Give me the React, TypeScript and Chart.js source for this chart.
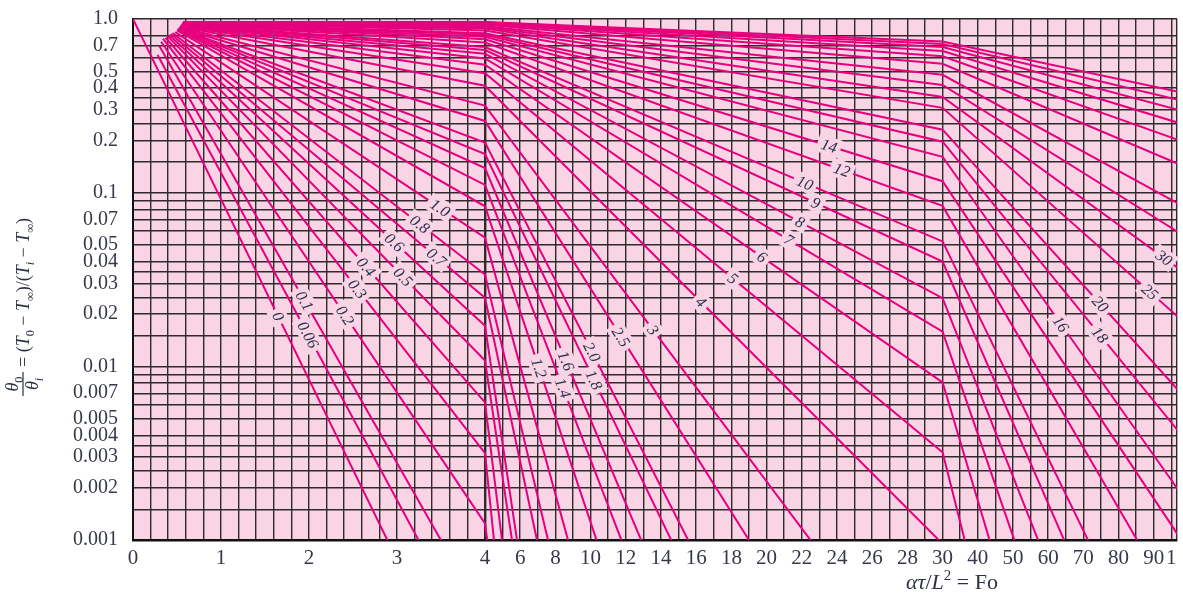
import React, { useEffect, useRef } from 'react';
import { Chart, registerables } from 'chart.js';

Chart.register(...registerables);

// k/hL curve labels
const curveLabels = ['0', '0.06', '0.1', '0.2', '0.3', '0.4', '0.5', '0.6', '0.7', '0.8', '1.0', '1.2', '1.4', '1.6', '1.8', '2.0', '2.5', '3', '4', '5', '6', '7', '8', '9', '10', '12', '14', '16', '18', '20', '25', '30', '35', '40', '50', '60', '70', '80', '90', '100'];
// first point of each curve (Fo, theta)
const startFo = [0, 0.28, 0.3, 0.32, 0.34, 0.37, 0.39, 0.41, 0.43, 0.45, 0.48, 0.5, 0.505, 0.51, 0.515, 0.52, 0.525, 0.53, 0.535, 0.54, 0.545, 0.55, 0.55, 0.555, 0.555, 0.56, 0.56, 0.56, 0.565, 0.565, 0.565, 0.57, 0.57, 0.57, 0.57, 0.57, 0.57, 0.57, 0.57, 0.57];
const startTheta = [1.0, 0.62, 0.7, 0.74, 0.77, 0.78, 0.8, 0.81, 0.82, 0.83, 0.84, 0.86, 0.87, 0.875, 0.88, 0.885, 0.89, 0.9, 0.905, 0.91, 0.915, 0.92, 0.925, 0.93, 0.93, 0.935, 0.94, 0.94, 0.945, 0.945, 0.95, 0.95, 0.952, 0.954, 0.955, 0.956, 0.957, 0.958, 0.959, 0.96];
// theta at Fo = 4, 30, 100 (null: curve already left the chart)
const thetaAtFo4 = [7.05e-5, 1.94e-4, 3.58e-4, 1.245e-3, 3.16e-3, 6.2e-3, 0.0108, 0.0171, 0.0248, 0.0338, 0.0551, 0.08347, 0.1108, 0.1387, 0.1667, 0.1941, 0.2589, 0.317, 0.4129, 0.4875, 0.5459, 0.5927, 0.6311, 0.663, 0.69, 0.7328, 0.7653, 0.7908, 0.8113, 0.8281, 0.8596, 0.8813, 0.8972, 0.9093, 0.9266, 0.9384, 0.947, 0.9534, 0.9584, 0.9625];
const thetaAtFo30 = [null, null, null, 3e-23, 1.2e-28, 2.9e-24, 3.3e-20, 4e-20, 1.33e-14, 2.65e-13, 1.39e-11, 1.09e-9, 1.53e-8, 7.29e-8, 5.76e-7, 1.363e-6, 1.695e-5, 9.65e-5, 9.5e-4, 3.2e-3, 8.09e-3, 0.01583, 0.0247, 0.0401, 0.0524, 0.0839, 0.1164, 0.1609, 0.1965, 0.2306, 0.308, 0.3556, 0.417, 0.4773, 0.5528, 0.6098, 0.6544, 0.6898, 0.7187, 0.7429];
const thetaAtFo100 = [null, null, null, null, null, null, null, null, null, null, null, null, null, null, null, null, null, null, 1e-10, 7.4e-9, 1.4e-7, 1.2e-6, 6.3e-6, 2.25e-5, 6.4e-5, 3.07e-4, 8.6e-4, 1.59e-3, 3.56e-3, 6.23e-3, 0.01693, 0.0331, 0.0542, 0.08, 0.1377, 0.1913, 0.242, 0.2887, 0.3313, 0.3697];
// Fo at which each curve label sits (null: unlabeled)
const labelFo = [1.65, 1.99, 1.95, 2.41, 2.55, 2.65, 3.07, 2.97, 3.45, 3.26, 3.49, 7.07, 8.43, 8.6, 10.19, 10.08, 11.73, 13.55, 16.27, 18.09, 19.74, 21.27, 21.9, 22.8, 22.18, 24.28, 23.55, 63.6, 74.7, 74.8, 88.9, 92.9, null, null, null, null, null, null, null, null];

// axis ticks (the last label is the clipped "100")
const foTickValues = [0, 1, 2, 3, 4, 6, 8, 10, 12, 14, 16, 18, 20, 22, 24, 26, 28, 30, 40, 50, 60, 70, 80, 90, 95];
const foTickLabels = ['0', '1', '2', '3', '4', '6', '8', '10', '12', '14', '16', '18', '20', '22', '24', '26', '28', '30', '40', '50', '60', '70', '80', '90', '1'];
const thetaGridValues = [1.0, 0.8, 0.7, 0.6, 0.5, 0.4, 0.35, 0.3, 0.25, 0.2, 0.15, 0.1, 0.09, 0.08, 0.07, 0.06, 0.05, 0.04, 0.035, 0.03, 0.025, 0.02, 0.015, 0.01, 0.009, 0.008, 0.007, 0.006, 0.005, 0.004, 0.0035, 0.003, 0.0025, 0.002, 0.0015, 0.001];
const thetaTickValues = [1.0, 0.7, 0.5, 0.4, 0.3, 0.2, 0.1, 0.07, 0.05, 0.04, 0.03, 0.02, 0.01, 0.007, 0.005, 0.004, 0.003, 0.002, 0.001];
const thetaTickLabels = ['1.0', '0.7', '0.5', '0.4', '0.3', '0.2', '0.1', '0.07', '0.05', '0.04', '0.03', '0.02', '0.01', '0.007', '0.005', '0.004', '0.003', '0.002', '0.001'];

const BG = '#f9d4e4';
const LINE = '#e6007e';
const GRID = '#2f2a2c';
const TEXT = '#353a46';
const SERIF = '"Liberation Serif", "Times New Roman", serif';
const X_MAX = 11.864;

function foToU(fo: number): number {
  if (fo <= 4) return fo;
  if (fo <= 30) return 4 + (fo - 4) / 5;
  return 9.2 + (fo - 30) / 25;
}

function curvePoints(i: number) {
  const raw: [number, number | null][] = [
    [startFo[i], startTheta[i]],
    [4, thetaAtFo4[i]],
    [30, thetaAtFo30[i]],
    [100, thetaAtFo100[i]],
  ];
  return raw.filter((p) => p[1] != null).map((p) => ({ x: foToU(p[0]), y: p[1] as number }));
}

type Run = { t: string; italic?: boolean; sub?: boolean; sup?: boolean };

function measureRuns(ctx: CanvasRenderingContext2D, runs: Run[], size: number) {
  let w = 0;
  for (const r of runs) {
    const s = r.sub || r.sup ? size * 0.68 : size;
    ctx.font = `${r.italic ? 'italic ' : ''}${s}px ${SERIF}`;
    w += ctx.measureText(r.t).width;
  }
  return w;
}

function drawRuns(ctx: CanvasRenderingContext2D, runs: Run[], x: number, y: number, size: number) {
  let cx = x;
  for (const r of runs) {
    const s = r.sub || r.sup ? size * 0.68 : size;
    ctx.font = `${r.italic ? 'italic ' : ''}${s}px ${SERIF}`;
    const dy = r.sub ? size * 0.25 : r.sup ? -size * 0.4 : 0;
    ctx.fillText(r.t, cx, y + dy);
    cx += ctx.measureText(r.t).width;
  }
}

const gridU: number[] = [];
for (let i = 0; i < 60; i++) gridU.push(+(i * 0.2).toFixed(2));
gridU.push(X_MAX);

function xLabelFor(u: number): string {
  for (let k = 0; k < foTickValues.length; k++) {
    if (Math.abs(foToU(foTickValues[k]) - u) < 0.01) return foTickLabels[k];
  }
  return '';
}
function yLabelFor(v: number): string {
  for (let k = 0; k < thetaTickValues.length; k++) {
    if (Math.abs(thetaTickValues[k] - v) / thetaTickValues[k] < 0.001) return thetaTickLabels[k];
  }
  return '';
}

const bgPlugin = {
  id: 'plotBg',
  beforeDraw(chart: any) {
    const { ctx, chartArea: a } = chart;
    ctx.save();
    ctx.fillStyle = BG;
    ctx.fillRect(a.left, a.top, a.right - a.left, a.bottom - a.top);
    ctx.restore();
  },
};

const curveLabelPlugin = {
  id: 'curveLabels',
  afterDatasetsDraw(chart: any) {
    const { ctx } = chart;
    const xs = chart.scales.x;
    const ys = chart.scales.y;
    curveLabels.forEach((lab, i) => {
      const f = labelFo[i];
      if (f == null) return;
      const pts = curvePoints(i);
      const u = foToU(f);
      for (let j = 0; j < pts.length - 1; j++) {
        if (u >= pts[j].x && u <= pts[j + 1].x) {
          const x1 = xs.getPixelForValue(pts[j].x);
          const y1 = ys.getPixelForValue(pts[j].y);
          const x2 = xs.getPixelForValue(pts[j + 1].x);
          const y2 = ys.getPixelForValue(pts[j + 1].y);
          const t = (u - pts[j].x) / (pts[j + 1].x - pts[j].x);
          const px = x1 + t * (x2 - x1);
          const py = y1 + t * (y2 - y1);
          const ang = Math.atan2(y2 - y1, x2 - x1);
          ctx.save();
          ctx.translate(px, py);
          ctx.rotate(ang);
          ctx.font = `italic 16px ${SERIF}`;
          const w = ctx.measureText(lab).width + 8;
          ctx.fillStyle = BG;
          ctx.fillRect(-w / 2, -9, w, 18);
          ctx.fillStyle = '#24304a';
          ctx.textAlign = 'center';
          ctx.textBaseline = 'middle';
          ctx.fillText(lab, 0, 1);
          ctx.restore();
          break;
        }
      }
    });
  },
};

const titlePlugin = {
  id: 'axisTitles',
  afterDraw(chart: any) {
    const { ctx } = chart;
    ctx.save();
    ctx.fillStyle = '#2b3140';
    ctx.strokeStyle = '#2b3140';
    ctx.textBaseline = 'alphabetic';
    ctx.textAlign = 'left';
    const xRuns: Run[] = [
      { t: 'ατ', italic: true },
      { t: '/' },
      { t: 'L', italic: true },
      { t: '2', sup: true },
      { t: ' = Fo' },
    ];
    const xs = 22;
    const xw = measureRuns(ctx, xRuns, xs);
    drawRuns(ctx, xRuns, 952 - xw / 2, 589, xs);

    ctx.translate(24, 312);
    ctx.rotate(-Math.PI / 2);
    const size = 18;
    const num: Run[] = [{ t: 'θ', italic: true }, { t: '0', sub: true }];
    const den: Run[] = [{ t: 'θ', italic: true }, { t: 'i', italic: true, sub: true }];
    const fc = -72;
    const nw = measureRuns(ctx, num, size);
    const dw = measureRuns(ctx, den, size);
    drawRuns(ctx, num, fc - nw / 2, -6, size);
    drawRuns(ctx, den, fc - dw / 2, 14, size);
    ctx.lineWidth = 1.2;
    ctx.beginPath();
    ctx.moveTo(fc - 12, -1);
    ctx.lineTo(fc + 12, -1);
    ctx.stroke();
    const main: Run[] = [
      { t: '= (' },
      { t: 'T', italic: true },
      { t: '0', sub: true },
      { t: ' − ' },
      { t: 'T', italic: true },
      { t: '∞', sub: true },
      { t: ')/(' },
      { t: 'T', italic: true },
      { t: 'i', italic: true, sub: true },
      { t: ' − ' },
      { t: 'T', italic: true },
      { t: '∞', sub: true },
      { t: ')' },
    ];
    drawRuns(ctx, main, -55, 5, size);
    ctx.restore();
  },
};

export default function App() {
  const canvasRef = useRef<HTMLCanvasElement | null>(null);

  useEffect(() => {
    const canvas = canvasRef.current;
    if (!canvas) return;
    const datasets = curveLabels.map((lab, i) => ({
      label: 'k/hL = ' + lab,
      data: curvePoints(i),
      borderColor: LINE,
      borderWidth: 2,
      pointRadius: 0,
      fill: false,
      tension: 0,
    }));
    const chart = new Chart(canvas, {
      type: 'line',
      data: { datasets },
      options: {
        responsive: false,
        animation: false,
        events: [],
        layout: { padding: { left: 0, right: 6, top: 19, bottom: 0 }, autoPadding: false },
        plugins: { legend: { display: false }, tooltip: { enabled: false }, title: { display: false } },
        scales: {
          x: {
            type: 'linear',
            min: 0,
            max: X_MAX,
            afterBuildTicks: (s: any) => {
              s.ticks = gridU.map((v) => ({ value: v }));
            },
            afterFit: (s: any) => {
              s.height = 56;
              s.paddingLeft = 0;
              s.paddingRight = 0;
            },
            grid: {
              color: GRID,
              drawTicks: false,
              lineWidth: (c: any) => {
                const v = c.tick ? c.tick.value : -1;
                return Math.abs(v - 4) < 1e-6 ? 2.4 : 1.4;
              },
            },
            border: { display: true, color: '#111', width: 2.5 },
            ticks: {
              autoSkip: false,
              maxRotation: 0,
              minRotation: 0,
              padding: 6,
              color: TEXT,
              font: { family: SERIF, size: 21 },
              callback: (v: any) => xLabelFor(Number(v)),
            },
          },
          y: {
            type: 'logarithmic',
            min: 0.001,
            max: 1,
            afterBuildTicks: (s: any) => {
              s.ticks = thetaGridValues.map((v) => ({ value: v }));
            },
            afterFit: (s: any) => {
              s.width = 133;
              s.paddingTop = 0;
              s.paddingBottom = 0;
            },
            grid: { color: GRID, drawTicks: false, lineWidth: 1.4 },
            border: { display: true, color: '#111', width: 2 },
            ticks: {
              autoSkip: false,
              padding: 15,
              color: TEXT,
              font: { family: SERIF, size: 20 },
              callback: (v: any) => yLabelFor(Number(v)),
            },
          },
        },
      },
      plugins: [bgPlugin, curveLabelPlugin, titlePlugin],
    } as any);
    return () => chart.destroy();
  }, []);

  return (
    <div style={{ position: 'fixed', left: 0, top: 0, width: 1183, height: 596, background: '#fff' }}>
      <canvas ref={canvasRef} width={1183} height={596} style={{ display: 'block' }} />
    </div>
  );
}
